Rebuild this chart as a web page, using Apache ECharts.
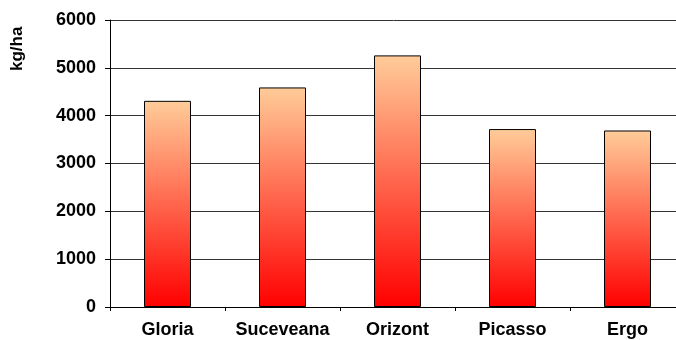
<!DOCTYPE html>
<html>
<head>
<meta charset="utf-8">
<script src="https://cdn.jsdelivr.net/npm/echarts@6/dist/echarts.min.js"></script>
<style>
html,body{margin:0;padding:0;background:#fff;}
#c{width:676px;height:340px;}
</style>
</head>
<body>
<div id="c"></div>
<script>
const categories = ['Gloria', 'Suceveana', 'Orizont', 'Picasso', 'Ergo'];
const yields = [4310, 4590, 5260, 3720, 3690];
const yTicks = [0, 1000, 2000, 3000, 4000, 5000, 6000];
const yAxisTitle = 'kg/ha';

const chart = echarts.init(document.getElementById('c'), null, {renderer: 'canvas'});
const font = '"Liberation Sans", Arial, sans-serif';
chart.setOption({
  animation: false,
  backgroundColor: '#ffffff',
  grid: {left: 110, top: 20, width: 575, height: 287, containLabel: false, outerBoundsMode: 'none'},
  graphic: [{
    type: 'text',
    x: 9,
    y: 71,
    rotation: Math.PI / 2,
    style: {
      text: yAxisTitle,
      fill: '#000',
      font: 'bold 17px "Liberation Sans", Arial, sans-serif',
      textAlign: 'left',
      textVerticalAlign: 'top'
    }
  }],
  xAxis: {
    type: 'category',
    data: categories,
    boundaryGap: true,
    axisLine: {show: true, lineStyle: {color: '#000', width: 1}},
    axisTick: {show: true, alignWithLabel: false, length: 4, lineStyle: {color: '#000'}},
    axisLabel: {color: '#000', fontWeight: 'bold', fontSize: 18, fontFamily: font, margin: 14, interval: 0}
  },
  yAxis: {
    type: 'value',
    min: yTicks[0],
    max: yTicks[yTicks.length - 1],
    interval: 1000,
    axisLine: {show: true, lineStyle: {color: '#000', width: 1}},
    axisTick: {show: true, length: 5, lineStyle: {color: '#000'}},
    axisLabel: {color: '#000', fontWeight: 'bold', fontSize: 18, fontFamily: font, margin: 14,
      formatter: function (v) { return String(v); }},
    splitLine: {show: true, lineStyle: {color: '#333', width: 1}}
  },
  series: [{
    type: 'bar',
    data: yields,
    barWidth: 47,
    itemStyle: {
      borderColor: '#000',
      borderWidth: 1,
      color: new echarts.graphic.LinearGradient(0, 0, 0, 1, [
        {offset: 0, color: '#FFCC99'},
        {offset: 1, color: '#FF0000'}
      ])
    }
  }]
});
</script>
</body>
</html>
